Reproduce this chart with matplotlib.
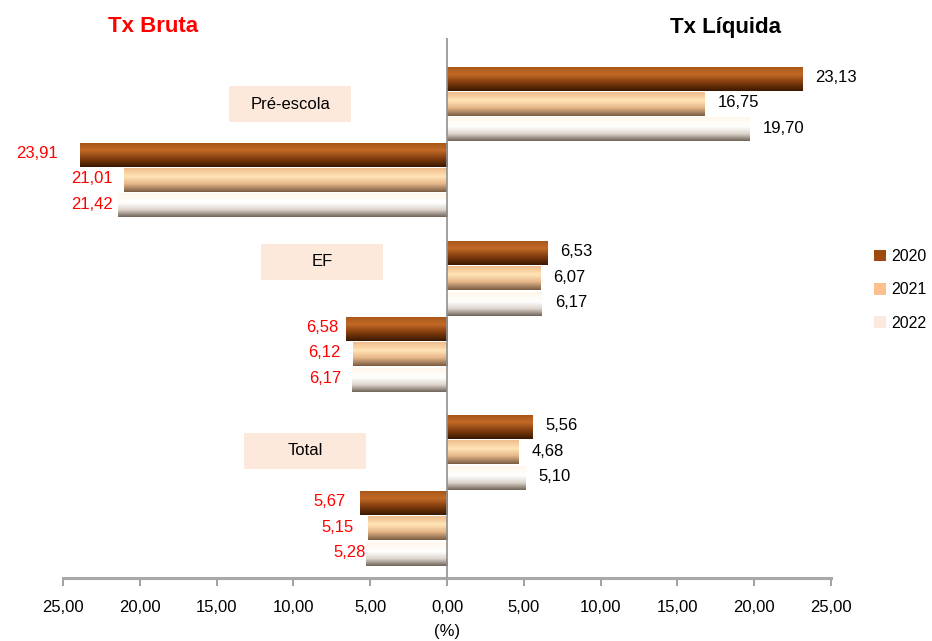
import numpy as np
import matplotlib.pyplot as plt
from matplotlib.colors import LinearSegmentedColormap
from matplotlib.patches import Rectangle

plt.rcParams['font.family'] = ['Liberation Sans', 'DejaVu Sans']

# data
categories = ['Pré-escola', 'EF', 'Total']
years = ['2020', '2021', '2022']
liq_2020 = [23.13, 6.53, 5.56]
liq_2021 = [16.75, 6.07, 4.68]
liq_2022 = [19.70, 6.17, 5.10]
bruta_2020 = [23.91, 6.58, 5.67]
bruta_2021 = [21.01, 6.12, 5.15]
bruta_2022 = [21.42, 6.17, 5.28]
xticks = [-25, -20, -15, -10, -5, 0, 5, 10, 15, 20, 25]

liq = [liq_2020, liq_2021, liq_2022]
bruta = [bruta_2020, bruta_2021, bruta_2022]

# gradient maps for the "3d" bar look, one per year
cmaps = [
    LinearSegmentedColormap.from_list('y2020', [(0, '#a8581a'), (0.3, '#c26a28'), (0.6, '#8a4210'), (1, '#3a1800')]),
    LinearSegmentedColormap.from_list('y2021', [(0, '#f0bc8c'), (0.35, '#ffe4b6'), (0.65, '#e8b88a'), (1, '#7a5c44')]),
    LinearSegmentedColormap.from_list('y2022', [(0, '#fff6ec'), (0.4, '#ffffff'), (0.7, '#ddd4cc'), (1, '#706458')]),
]
legend_colors = ['#9c4a10', '#fbc08e', '#fdeadf']

# manual gap (px) between bruta bar end and its label, like the original
bruta_gap = [[22, 8, 14], [12, 12, 14], [5, 11, 0]]

fig = plt.figure(figsize=(9.32, 6.41), dpi=100)
ax = fig.add_axes([63/932, 1-578/641, 768/932, 540/641])

grad = np.linspace(0, 1, 64).reshape(-1, 1)
group_step = 6.88
for j in range(3):
    y_liq = [g*group_step + j for g in range(3)]
    y_bru = [g*group_step + 3 + j for g in range(3)]
    b1 = ax.barh(y_liq, liq[j], height=0.94, color='none')
    b2 = ax.barh(y_bru, [-v for v in bruta[j]], height=0.94, color='none')
    for p in list(b1) + list(b2):
        x0, x1 = sorted([p.get_x(), p.get_x() + p.get_width()])
        y0 = p.get_y(); h = p.get_height()
        ax.imshow(grad, cmap=cmaps[j], extent=(x0, x1, y0 + h, y0), aspect='auto', origin='upper', zorder=2)
    for g, p in enumerate(b1):
        ax.annotate(f"{liq[j][g]:.2f}".replace('.', ','), (p.get_width(), p.get_y() + p.get_height()/2),
                    xytext=(9.5, 1), textcoords='offset points', ha='left', va='center', fontsize=12, color='black')
    for g, p in enumerate(b2):
        ax.annotate(f"{bruta[j][g]:.2f}".replace('.', ','), (p.get_width(), p.get_y() + p.get_height()/2),
                    xytext=(-bruta_gap[j][g]*0.72, 1), textcoords='offset points', ha='right', va='center', fontsize=12, color='#ff0000')

# category boxes
box_x = [-10.2, -8.14, -9.24]
box_y = [0.99, 7.23, 14.7]
for cat, bx, by in zip(categories, box_x, box_y):
    ax.add_patch(Rectangle((bx - 3.97, by - 0.71), 7.94, 1.42, facecolor='#fde9dc', edgecolor='none', zorder=1))
    ax.text(bx, by, cat, ha='center', va='center', fontsize=12, zorder=3)

ax.set_xlim(-25, 25)
ax.set_ylim(19.72, -1.62)
ax.axvline(0, color='#909090', lw=1.2, zorder=3)

for s in ['top', 'right', 'left']:
    ax.spines[s].set_visible(False)
ax.spines['bottom'].set_color('#a8a8a8')
ax.spines['bottom'].set_linewidth(2.2)
ax.set_yticks([])
ax.set_xticks(xticks)
ax.set_xticklabels([f"{abs(t):.2f}".replace('.', ',') for t in xticks], fontsize=12)
ax.tick_params(axis='x', length=6, width=1.2, color='#909090', pad=10)
ax.set_xlabel('(%)', fontsize=12, labelpad=6)

fig.text(153/932, 1-27/641, 'Tx Bruta', color='#ff0000', fontsize=16, fontweight='bold', ha='center', va='center')
fig.text(725/932, 1-27/641, 'Tx Líquida', color='black', fontsize=16, fontweight='bold', ha='center', va='center')

# legend
handles = [Rectangle((0, 0), 1, 1, facecolor=c) for c in legend_colors]
fig.legend(handles, years, loc='center left', bbox_to_anchor=(874/932, 1-290/641), frameon=False, borderpad=0,
           borderaxespad=0, fontsize=11.5, handlelength=0.75, handleheight=0.75, handletextpad=0.35, labelspacing=1.15)

fig.savefig('out.png', dpi=100)
